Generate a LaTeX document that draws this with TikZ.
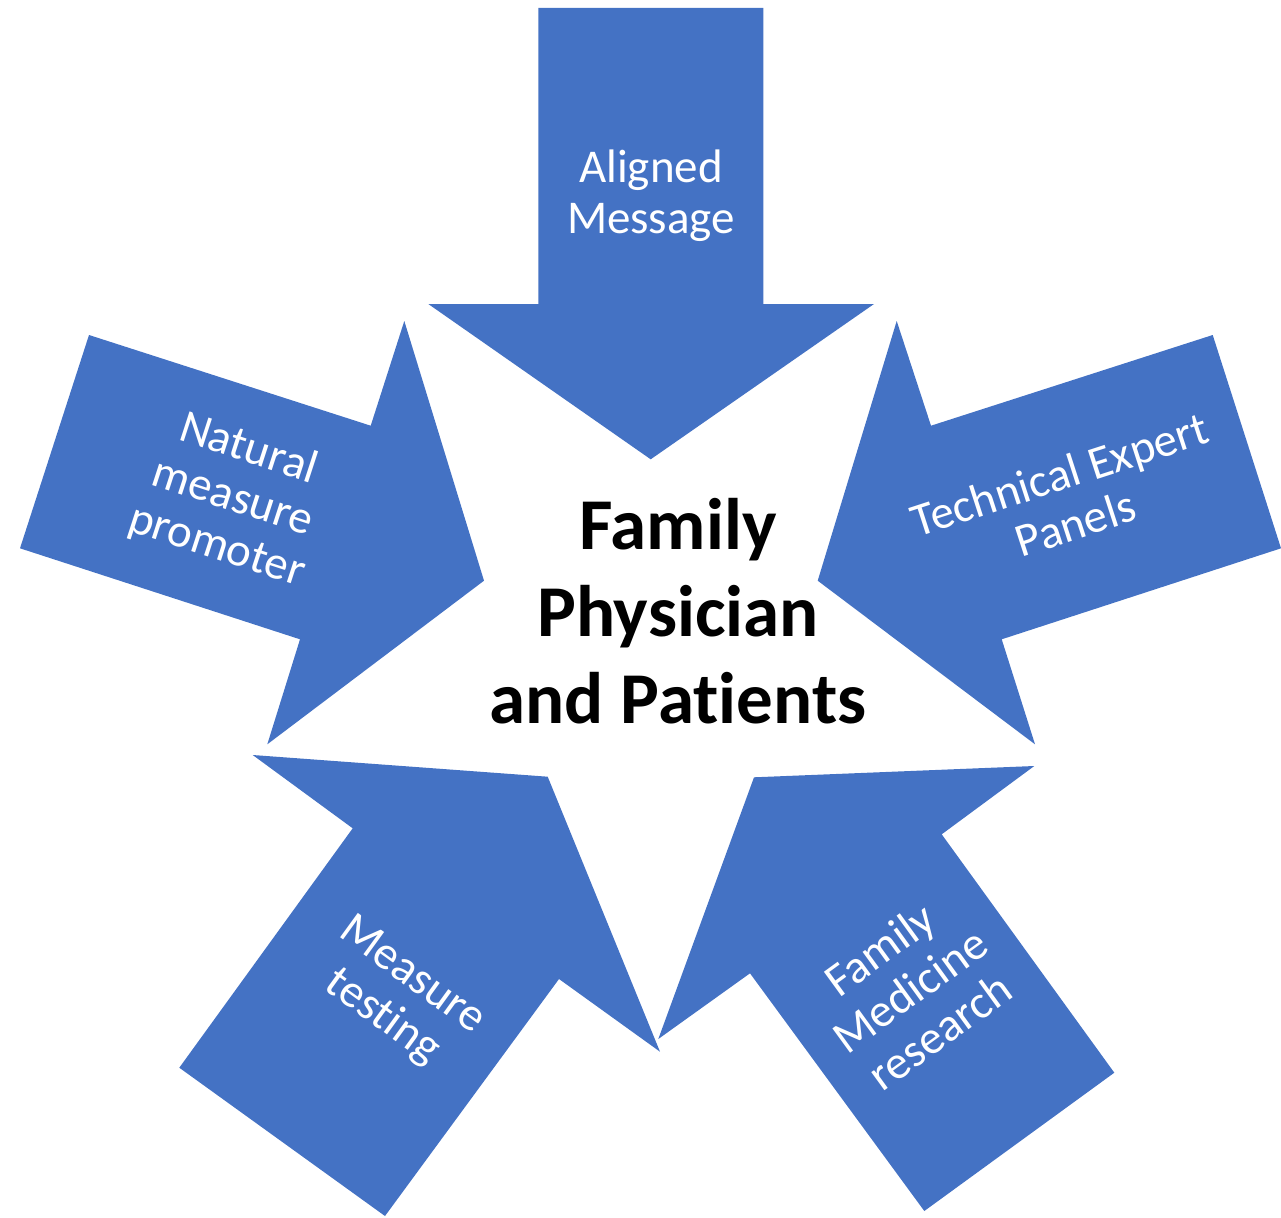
\documentclass[tikz,border=0pt]{standalone}
\usepackage{fontspec}
\setmainfont{Carlito}[Ligatures=NoCommon]
\definecolor{arrowblue}{HTML}{4472C4}
\tikzset{
  x=1pt,y=1pt,
  bigarrow/.style={fill=arrowblue, draw=none},
  lbl/.style={text=white, align=center, inner sep=0pt, font=\fontsize{47}{51}\selectfont},
  centerlbl/.style={text=black, align=center, inner sep=0pt, font=\fontsize{73}{87}\selectfont\bfseries}
}
\begin{document}
\begin{tikzpicture}
\useasboundingbox (0,0) rectangle (1281,-1217);
\coordinate (C) at (651,-634);
% top arrow
\path[bigarrow] (650.7,-459.3) -- (874,-304) -- (763.3,-304) -- (763.3,-8) -- (538.3,-8) -- (538.3,-304) -- (428.3,-304) -- cycle;
% right arrow
\path[bigarrow] (817.7,-580.7) -- (896.7,-321) -- (931,-425.7) -- (1212.7,-335) -- (1281,-548.3) -- (1001.7,-639.3) -- (1035,-744.3) -- cycle;
% left arrow
\path[bigarrow] (484,-580.7) -- (404.3,-321) -- (370.7,-425.7) -- (89,-335) -- (20,-548.3) -- (300,-639.3) -- (267.3,-744.3) -- cycle;
% bottom-left arrow
\path[bigarrow] (547.7,-776.7) -- (660,-1051.7) -- (559,-979) -- (385,-1216) -- (179.3,-1067.7) -- (352.7,-828.3) -- (252.7,-755) -- cycle;
% bottom-right arrow
\path[bigarrow] (754,-777.3) -- (1034.3,-766) -- (941.7,-834.3) -- (1114.3,-1072.7) -- (924.3,-1211) -- (750,-973.3) -- (658.3,-1039) -- cycle;
\node[lbl] (t1) at ([shift={(C)}]90:438) {Aligned\\Message};
\node[lbl, rotate=18] (t2) at ([shift={(C)}]18:438) {Technical Expert\\Panels};
\node[lbl, rotate=-18] (t3) at ([shift={(C)}]162:440) {Natural\\measure\\promoter};
\node[lbl, rotate=-36] (t4) at ([shift={(C)}]235:443) {Measure\\testing};
\node[lbl, rotate=36] (t5) at ([shift={(C)}]306:440) {Family\\Medicine\\research};
\node[centerlbl] (ctr) at (678,-611) {Family\\Physician\\and Patients};
\end{tikzpicture}
\end{document}
